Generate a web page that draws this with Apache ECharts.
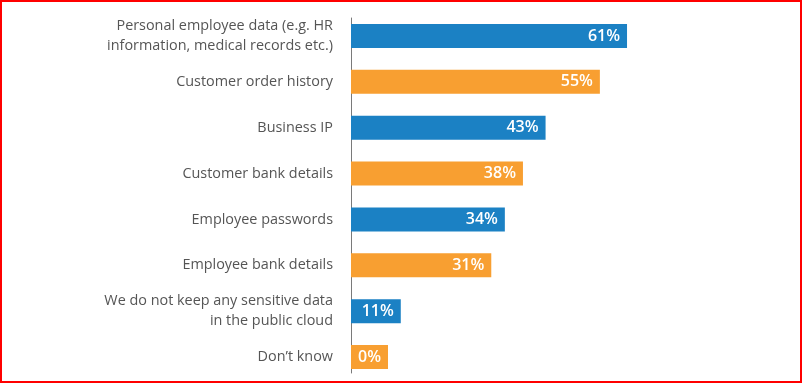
<!DOCTYPE html>
<html>
<head>
<meta charset="utf-8">
<script src="https://cdn.jsdelivr.net/npm/echarts@6/dist/echarts.min.js"></script>
<style>
  html, body { margin: 0; padding: 0; background: #fff; }
  #wrap { position: relative; width: 802px; height: 383px; }
  #chart { width: 802px; height: 383px; }
  #frame { position: absolute; left: 0; top: 0; width: 802px; height: 383px; box-sizing: border-box; border: 2px solid #ff0000; pointer-events: none; }
</style>
</head>
<body>
<div id="wrap"><div id="chart"></div><div id="frame"></div></div>
<script>
const categories = [
  "Personal employee data (e.g. HR\ninformation, medical records etc.)",
  "Customer order history",
  "Business IP",
  "Customer bank details",
  "Employee passwords",
  "Employee bank details",
  "We do not keep any sensitive data\nin the public cloud",
  "Don\u2019t know"
];
const values = [61, 55, 43, 38, 34, 31, 11, 0];
const barColors = ["#1b81c4", "#f89f31"];

const chart = echarts.init(document.getElementById('chart'), null, { renderer: 'canvas' });
const font = '"Open Sans", "Noto Sans", sans-serif';

chart.setOption({
  animation: false,
  grid: [
    { left: 351, top: 13, width: 362, bottom: 3, containLabel: false },
    { left: 351, top: 18, width: 1, bottom: 10, containLabel: false }
  ],
  xAxis: [
    { type: 'value', min: 0, max: 80, show: false, gridIndex: 0 },
    { type: 'value', min: 0, max: 1, show: false, gridIndex: 1 }
  ],
  yAxis: [
    {
      type: 'category', inverse: true, gridIndex: 0,
      data: categories,
      splitLine: { show: false },
      axisTick: { show: false },
      axisLine: { show: false },
      axisLabel: {
        color: '#555555',
        fontFamily: font,
        fontSize: 14.4,
        lineHeight: 20,
        margin: 18,
        align: 'right'
      }
    },
    {
      type: 'value', gridIndex: 1, min: 0, max: 1,
      splitLine: { show: false },
      axisTick: { show: false },
      axisLabel: { show: false },
      axisLine: { show: true, lineStyle: { color: '#7a7a7a', width: 1 } }
    }
  ],
  series: [{
    type: 'bar',
    xAxisIndex: 0, yAxisIndex: 0,
    barWidth: 24,
    barMinHeight: 37,
    data: values.map((v, i) => ({
      value: v,
      itemStyle: { color: barColors[i % 2] }
    })),
    label: {
      show: true,
      position: 'insideRight',
      distance: 7,
      color: '#ffffff',
      fontFamily: font,
      fontSize: 16,
      fontWeight: 600,
      formatter: p => p.value + '%'
    }
  }]
});
</script>
</body>
</html>
